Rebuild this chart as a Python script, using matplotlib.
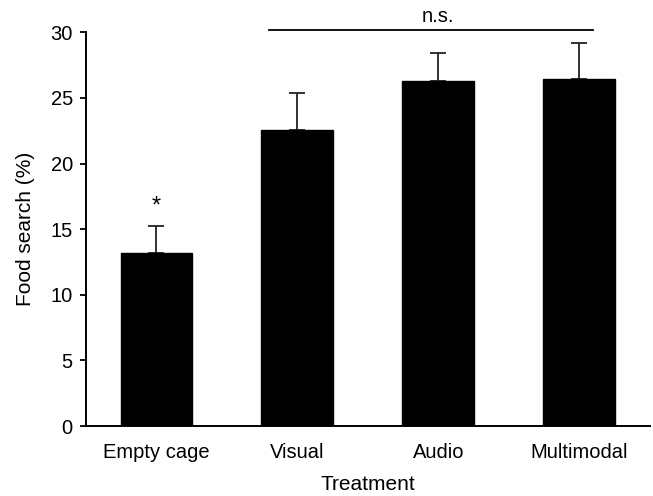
import matplotlib
matplotlib.use("Agg")
import matplotlib.pyplot as plt
import numpy as np

# === Dados ===
tratamentos = ["Empty cage", "Visual", "Audio", "Multimodal"]
busca_media = [13.2, 22.55, 26.25, 26.4]
erro_sup = [2.05, 2.85, 2.15, 2.8]

plt.rcParams['font.family'] = ['Liberation Sans', 'DejaVu Sans']

fig = plt.figure(figsize=(6.53, 4.96), dpi=100)
ax = fig.add_axes([0.1317, 0.141, 0.863, 0.794])

x = np.arange(len(tratamentos))
ax.bar(x, busca_media, width=0.51, color='black', edgecolor='black', zorder=2)
ax.errorbar(x, busca_media, yerr=[np.zeros(len(x)), erro_sup], fmt='none',
            ecolor='#222222', elinewidth=1.3, capsize=5.5, capthick=1.3, zorder=1)

ax.set_xlim(-0.5, 3.5)
ax.set_ylim(0, 30)
ax.set_yticks([0, 5, 10, 15, 20, 25, 30])
ax.set_xticks(x)
ax.set_xticklabels(tratamentos)

for s in ['top', 'right']:
    ax.spines[s].set_visible(False)
for s in ['left', 'bottom']:
    ax.spines[s].set_linewidth(1.4)
ax.tick_params(axis='y', direction='out', length=4.5, width=1.3, labelsize=14.5, pad=5)
ax.tick_params(axis='x', length=0, labelsize=14.5, pad=12.5)

ax.set_ylabel("Food search (%)", fontsize=15, labelpad=11)
ax.set_xlabel("Treatment", fontsize=15, labelpad=9)

# asterisco e barra de n.s.
ax.text(0, busca_media[0] + erro_sup[0] + 0.6, "*", ha='center', va='bottom', fontsize=17)
ax.plot([0.8, 3.1], [30.2, 30.2], color='black', lw=1.3, clip_on=False)
ax.text(2.0, 30.5, "n.s.", ha='center', va='bottom', fontsize=14.5, clip_on=False)

fig.savefig("out.png", dpi=100)
